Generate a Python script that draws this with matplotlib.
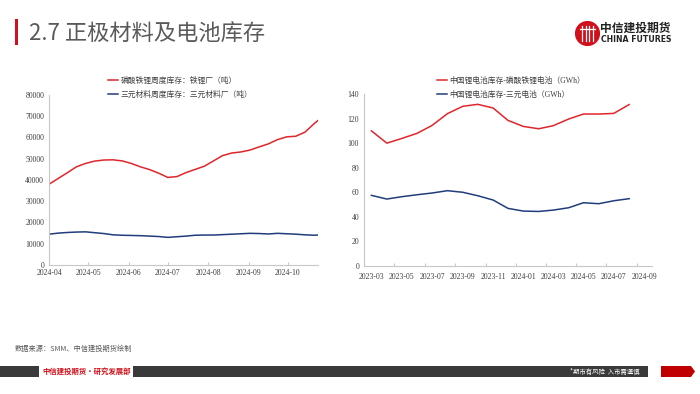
import numpy as np
import pandas as pd
import matplotlib
matplotlib.use("Agg")
import matplotlib.pyplot as plt
import matplotlib.dates as mdates
from matplotlib.patches import Rectangle, Circle, Polygon

plt.rcParams['font.family'] = ['Liberation Serif', 'Noto Sans CJK SC', 'DejaVu Sans']

# Left chart: weekly cathode material inventory (tons)
weeks = list(pd.date_range('2024-04-01', periods=30, freq='7D')) + [pd.Timestamp('2024-10-24')]
lfp_material = [38000, 40700, 43400, 46200, 47800, 48900, 49400, 49500, 49000, 47800,
                46200, 44900, 43200, 41200, 41600, 43500, 45000, 46500, 49000, 51500,
                52700, 53200, 54100, 55600, 57000, 59000, 60300, 60600, 62500, 66500, 68000]
ncm_material = [14500, 15000, 15300, 15500, 15600, 15200, 14800, 14200, 14000, 13900,
                13800, 13600, 13400, 13000, 13300, 13600, 14000, 14100, 14100, 14300,
                14500, 14700, 14900, 14800, 14600, 14900, 14700, 14500, 14200, 14000, 14100]
left_labels = ['磷酸铁锂周度库存：铁锂厂（吨）', '三元材料周度库存：三元材料厂（吨）']

# Right chart: monthly China Li-ion battery inventory (GWh)
months = ['2023-03', '2023-04', '2023-05', '2023-06', '2023-07', '2023-08', '2023-09',
          '2023-10', '2023-11', '2023-12', '2024-01', '2024-02', '2024-03', '2024-04',
          '2024-05', '2024-06', '2024-07', '2024-08']
lfp_battery = [110, 100, 103.8, 108, 114.4, 124, 130, 131.6, 128.6, 118.5, 113.6, 111.7,
               114.2, 119.6, 123.7, 123.7, 124.2, 131.4]
ncm_battery = [57.5, 54.5, 56.4, 58, 59.4, 61.3, 60, 57.2, 53.7, 46.9, 44.7, 44.4,
               45.5, 47.4, 51.5, 50.7, 53.1, 54.8]
right_labels = ['中国锂电池库存-磷酸铁锂电池（GWh）', '中国锂电池库存-三元电池（GWh）']

RED = '#e0262b'
BLUE = '#203d7c'
GRID = '#c8c8c8'
TXT = '#404040'
FS = 5.6

W, H = 700, 394
fig = plt.figure(figsize=(7, 3.94), dpi=100)


def fx(px):
    return px / W


def fy(py):
    return 1 - py / H


def style_axes(ax):
    for s in ['top', 'right']:
        ax.spines[s].set_visible(False)
    for s in ['left', 'bottom']:
        ax.spines[s].set_color(GRID)
        ax.spines[s].set_linewidth(0.8)
    ax.tick_params(axis='y', length=0, labelsize=FS, colors=TXT, pad=3.5)
    ax.tick_params(axis='x', which='major', direction='in', length=2.5, color=GRID,
                   labelsize=FS, labelcolor=TXT, pad=3.2)


# ---- left chart ----
ax1 = fig.add_axes([fx(49), fy(265), fx(318 - 49), (265 - 95) / H])
x1 = pd.to_datetime(weeks)
l1, = ax1.plot(x1, lfp_material, color=RED, lw=1.1)
l2, = ax1.plot(x1, ncm_material, color=BLUE, lw=1.1)
ax1.set_ylim(0, 80000)
ax1.set_yticks(np.arange(0, 80001, 10000))
ax1.set_xlim(pd.Timestamp('2024-04-01'), pd.Timestamp('2024-10-24'))
ax1.xaxis.set_major_locator(mdates.MonthLocator())
ax1.xaxis.set_major_formatter(mdates.DateFormatter('%Y-%m'))
style_axes(ax1)
fig.legend([l1, l2], left_labels, loc='upper left', bbox_to_anchor=(fx(104), fy(73)),
           frameon=False, fontsize=FS, handlelength=1.3, handletextpad=0.3,
           labelspacing=0.75, borderpad=0, labelcolor=TXT)

# ---- right chart ----
ax2 = fig.add_axes([fx(364), fy(266), fx(652 - 364), (266 - 94) / H])
x2 = pd.to_datetime(months) + pd.Timedelta(days=15)
r1, = ax2.plot(x2, lfp_battery, color=RED, lw=1.1)
r2, = ax2.plot(x2, ncm_battery, color=BLUE, lw=1.1)
ax2.set_ylim(0, 140)
ax2.set_yticks(np.arange(0, 141, 20))
ax2.set_xlim(pd.Timestamp('2023-03-01'), pd.Timestamp('2024-10-01'))
ax2.xaxis.set_major_locator(mdates.MonthLocator(bymonth=(1, 3, 5, 7, 9, 11)))
ax2.xaxis.set_major_formatter(plt.NullFormatter())
ax2.xaxis.set_minor_locator(mdates.MonthLocator(bymonth=(1, 3, 5, 7, 9, 11), bymonthday=16))
ax2.xaxis.set_minor_formatter(mdates.DateFormatter('%Y-%m'))
style_axes(ax2)
ax2.tick_params(axis='x', which='minor', length=0, labelsize=FS, labelcolor=TXT, pad=5)
fig.legend([r1, r2], right_labels, loc='upper left', bbox_to_anchor=(fx(433), fy(73)),
           frameon=False, fontsize=FS, handlelength=1.3, handletextpad=0.3,
           labelspacing=0.75, borderpad=0, labelcolor=TXT)

# ---- header ----
fig.add_artist(Rectangle((fx(15), fy(45)), fx(3), (45 - 19) / H, transform=fig.transFigure,
                         color='#d0101b', lw=0))
fig.text(fx(29), fy(33), '2.7 正极材料及电池库存', fontsize=16, color='#5a5a5a',
         family=['Noto Sans CJK SC', 'DejaVu Sans'], va='center', ha='left')

# logo
ax_logo = fig.add_axes([fx(575), fy(46), fx(25), 25 / H])
ax_logo.set_xlim(-1, 1)
ax_logo.set_ylim(-1, 1)
ax_logo.set_aspect('equal')
ax_logo.axis('off')
ax_logo.add_patch(Circle((0, 0), 0.95, color='#d0101b'))
for xv in [-0.45, -0.15, 0.15, 0.45]:
    ax_logo.plot([xv, xv], [-0.6, 0.6], color='white', lw=0.9)
ax_logo.plot([-0.6, 0.6], [0.35, 0.35], color='white', lw=0.9)
fig.text(fx(600), fy(28), '中信建投期货', fontsize=8.5, fontweight='bold', color='#222222',
         family=['Noto Sans CJK SC'], va='center', ha='left')
fig.text(fx(601), fy(40), 'CHINA FUTURES', fontsize=5.6, fontweight='bold', color='#222222',
         family=['DejaVu Sans'], va='center', ha='left')

# ---- footer ----
fig.text(fx(15), fy(349), '数据来源：SMM、中信建投期货绘制', fontsize=5.2, color='#595959',
         family=['Noto Sans CJK SC'], va='center', ha='left')
fig.add_artist(Rectangle((0, fy(377)), fx(39), 11 / H, transform=fig.transFigure,
                         color='#3a3a3a', lw=0))
fig.text(fx(42), fy(371.5), '中信建投期货·研究发展部', fontsize=5.3, color='#d0101b',
         family=['Noto Sans CJK SC'], va='center', ha='left', fontweight='bold')
fig.add_artist(Rectangle((fx(133), fy(377)), fx(648 - 133), 11 / H, transform=fig.transFigure,
                         color='#3a3a3a', lw=0))
fig.text(fx(639), fy(371.5), '*期市有风险  入市需谨慎', fontsize=4.6, color='white',
         family=['Noto Sans CJK SC'], va='center', ha='right')
fig.add_artist(Polygon([(fx(661), fy(366)), (fx(691), fy(366)), (fx(695), fy(371.5)),
                        (fx(691), fy(377)), (fx(661), fy(377))],
                       closed=True, transform=fig.transFigure, color='#c00000', lw=0))

fig.savefig('out.png', dpi=100, facecolor='white')
